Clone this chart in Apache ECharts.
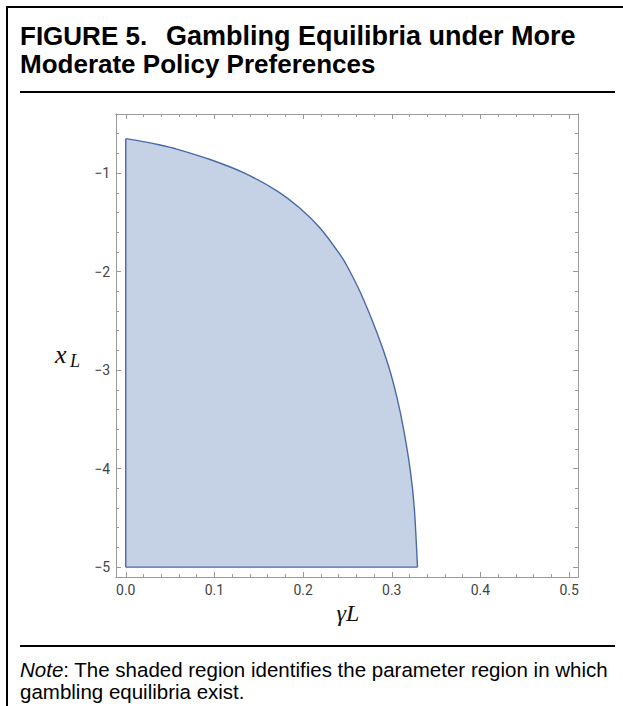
<!DOCTYPE html>
<html>
<head>
<meta charset="utf-8">
<script src="https://cdn.jsdelivr.net/npm/echarts@6/dist/echarts.min.js"></script>
<style>
  html, body { margin: 0; padding: 0; background: #ffffff; }
  #chart { width: 623px; height: 706px; }
</style>
</head>
<body>
<div id="chart"></div>
<script>
// ---- data ----
const curveGamma = [0, 0.0199, 0.0387, 0.0575, 0.0951, 0.1327, 0.1704, 0.1968, 0.2193, 0.2419, 0.2494, 0.2645, 0.2833, 0.2964, 0.3059, 0.3133, 0.3209, 0.3254, 0.329];
const curveX     = [-0.65, -0.68, -0.715, -0.756, -0.862, -0.995, -1.18, -1.36, -1.56, -1.83, -1.94, -2.21, -2.62, -2.96, -3.28, -3.60, -4.02, -4.40, -5.0];
const floorX = -5;      // lower edge of the shaded region
const leftGamma = 0;    // left edge of the shaded region

const xMajorTicks = [0, 0.1, 0.2, 0.3, 0.4, 0.5];
const xMinorTicks = [0.02, 0.04, 0.06, 0.08, 0.12, 0.14, 0.16, 0.18, 0.22, 0.24, 0.26, 0.28, 0.32, 0.34, 0.36, 0.38, 0.42, 0.44, 0.46, 0.48];
const yMajorTicks = [-5, -4, -3, -2, -1];
const yMinorTicks = [-4.8, -4.6, -4.4, -4.2, -3.8, -3.6, -3.4, -3.2, -2.8, -2.6, -2.4, -2.2, -1.8, -1.6, -1.4, -1.2, -0.8, -0.6];

const titleNum = 'FIGURE 5.';
const titleLine1 = 'Gambling Equilibria under More';
const titleLine2 = 'Moderate Policy Preferences';
const noteLabel = 'Note';
const noteLine1Rest = ': The shaded region identifies the parameter region in which';
const noteLine2 = 'gambling equilibria exist.';
const xName = '\u03B3L';
const yNameMain = 'x', yNameSub = 'L';

// ---- series data built from the arrays ----
const curveData = curveGamma.map((g, i) => [g, curveX[i]]);
const leftEdge = [[leftGamma, floorX], [leftGamma, curveX[0]]];
const bottomEdge = [[leftGamma, floorX], [curveGamma[curveGamma.length - 1], floorX]];

const frameColor = '#9a9a9a';
const labelColor = '#444444';
const lineColor = '#4a69a8';
const fillColor = '#c5d1e5';
const xMin = -0.011, xMax = 0.51, yMin = -5.1, yMax = -0.4;

function xAxisDef(pos, ticks, len, withLabels) {
  return {
    type: 'value', position: pos, min: xMin, max: xMax,
    axisLine: { show: true, onZero: false, lineStyle: { color: frameColor, width: 1 } },
    axisTick: { show: true, inside: true, length: len, customValues: ticks, lineStyle: { color: frameColor, width: 1 } },
    axisLabel: withLabels ? {
      show: true, customValues: ticks, margin: 6, color: labelColor, fontSize: 14,
      fontFamily: 'Roboto', formatter: v => v.toFixed(1)
    } : { show: false },
    splitLine: { show: false }
  };
}
function yAxisDef(pos, ticks, len, withLabels) {
  return {
    type: 'value', position: pos, min: yMin, max: yMax,
    axisLine: { show: true, onZero: false, lineStyle: { color: frameColor, width: 1 } },
    axisTick: { show: true, inside: true, length: len, customValues: ticks, lineStyle: { color: frameColor, width: 1 } },
    axisLabel: withLabels ? {
      show: true, customValues: ticks, margin: 6, color: labelColor, fontSize: 14,
      fontFamily: 'Roboto', formatter: v => '\u2212' + Math.abs(v)
    } : { show: false },
    splitLine: { show: false }
  };
}

const chart = echarts.init(document.getElementById('chart'), null, { renderer: 'svg' });
chart.setOption({
  backgroundColor: '#ffffff',
  animation: false,
  grid: { left: 116, right: 45, top: 114, bottom: 129, containLabel: false },
  xAxis: [
    xAxisDef('bottom', xMajorTicks, 5, true),
    xAxisDef('bottom', xMinorTicks, 3, false),
    xAxisDef('top', xMajorTicks, 5, false),
    xAxisDef('top', xMinorTicks, 3, false)
  ],
  yAxis: [
    yAxisDef('left', yMajorTicks, 5, true),
    yAxisDef('left', yMinorTicks, 3, false),
    yAxisDef('right', yMajorTicks, 5, false),
    yAxisDef('right', yMinorTicks, 3, false)
  ],
  series: [
    {
      type: 'line', xAxisIndex: 0, yAxisIndex: 0,
      data: curveData, showSymbol: false, smooth: 0.25,
      lineStyle: { color: lineColor, width: 1.4 },
      areaStyle: { origin: floorX, color: fillColor, opacity: 1 },
      z: 2
    },
    {
      type: 'line', xAxisIndex: 0, yAxisIndex: 0,
      data: leftEdge, showSymbol: false,
      lineStyle: { color: lineColor, width: 1.4 }, z: 3
    },
    {
      type: 'line', xAxisIndex: 0, yAxisIndex: 0,
      data: bottomEdge, showSymbol: false,
      lineStyle: { color: lineColor, width: 1.4 }, z: 3
    }
  ],
  graphic: [
    { type: 'line', shape: { x1: 6, y1: 7, x2: 623, y2: 7 }, style: { stroke: '#000', lineWidth: 2 } },
    { type: 'line', shape: { x1: 7, y1: 6, x2: 7, y2: 706 }, style: { stroke: '#000', lineWidth: 2 } },
    { type: 'line', shape: { x1: 20, y1: 92, x2: 615, y2: 92 }, style: { stroke: '#000', lineWidth: 2 } },
    { type: 'line', shape: { x1: 20, y1: 646, x2: 615, y2: 646 }, style: { stroke: '#000', lineWidth: 2 } },
    { type: 'text', x: 20, y: 36, style: { text: titleNum, font: 'bold 26px "Liberation Sans"', fill: '#000', textVerticalAlign: 'middle' } },
    { type: 'text', x: 166, y: 36, style: { text: titleLine1, font: 'bold 27px "Liberation Sans"', fill: '#000', textVerticalAlign: 'middle' } },
    { type: 'text', x: 20, y: 64, style: { text: titleLine2, font: 'bold 26px "Liberation Sans"', fill: '#000', textVerticalAlign: 'middle' } },
    { type: 'text', x: 55, y: 354, style: { text: yNameMain, font: 'italic 26px "Liberation Serif"', fill: '#111', textVerticalAlign: 'middle' } },
    { type: 'text', x: 70, y: 361, style: { text: yNameSub, font: 'italic 18px "Liberation Serif"', fill: '#111', textVerticalAlign: 'middle' } },
    { type: 'text', x: 348, y: 613, style: { text: xName, font: 'italic 24px "Liberation Serif"', fill: '#111', textAlign: 'center', textVerticalAlign: 'middle' } },
    { type: 'text', x: 20, y: 669, style: {
        text: '{i|' + noteLabel + '}{r|' + noteLine1Rest + '}',
        rich: {
          i: { font: 'italic 20.5px "Liberation Sans"', fill: '#000' },
          r: { font: '20.5px "Liberation Sans"', fill: '#000' }
        },
        textVerticalAlign: 'middle' } },
    { type: 'text', x: 20, y: 691, style: { text: noteLine2, font: '20.5px "Liberation Sans"', fill: '#000', textVerticalAlign: 'middle' } }
  ]
});
</script>
</body>
</html>
